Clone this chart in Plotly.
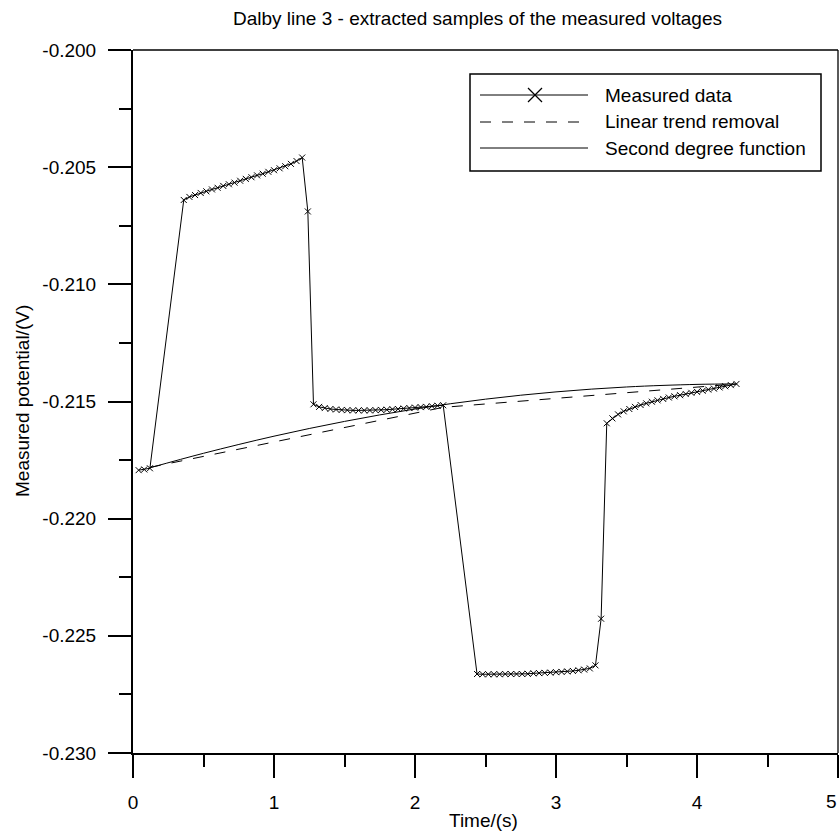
import plotly.graph_objects as go

# ---------------- data ----------------
t_measured = [
    0.04, 0.08, 0.12,
    0.36, 0.40, 0.44, 0.48, 0.52, 0.56, 0.60, 0.64, 0.68, 0.72, 0.76,
    0.80, 0.84, 0.88, 0.92, 0.96, 1.00, 1.04, 1.08, 1.12, 1.16, 1.20,
    1.24,
    1.28, 1.32, 1.36, 1.40, 1.44, 1.48, 1.52, 1.56, 1.60, 1.64, 1.68, 1.72,
    1.76, 1.80, 1.84, 1.88, 1.92, 1.96, 2.00, 2.04, 2.08, 2.12, 2.16, 2.20,
    2.44, 2.48, 2.52, 2.56, 2.60, 2.64, 2.68, 2.72, 2.76, 2.80, 2.84, 2.88,
    2.92, 2.96, 3.00, 3.04, 3.08, 3.12, 3.16, 3.20, 3.24, 3.28,
    3.32,
    3.36, 3.40, 3.44, 3.48, 3.52, 3.56, 3.60, 3.64, 3.68, 3.72, 3.76, 3.80,
    3.84, 3.88, 3.92, 3.96, 4.00, 4.04, 4.08, 4.12, 4.16, 4.20, 4.24, 4.28,
]
v_measured = [
    -0.21793, -0.21790, -0.21785,
    -0.20640, -0.20627, -0.20619, -0.20610, -0.20603, -0.20595, -0.20588,
    -0.20580, -0.20573, -0.20566, -0.20558, -0.20550, -0.20543, -0.20535,
    -0.20528, -0.20520, -0.20513, -0.20505, -0.20496, -0.20486, -0.20474,
    -0.20459,
    -0.20689,
    -0.21512, -0.21523, -0.21528, -0.21532, -0.21534, -0.21536, -0.21537,
    -0.21538, -0.21538, -0.21538, -0.21538, -0.21537, -0.21536, -0.21535,
    -0.21533, -0.21532, -0.21530, -0.21528, -0.21526, -0.21524, -0.21523,
    -0.21520, -0.21518, -0.21516,
    -0.22663, -0.22664, -0.22664, -0.22664, -0.22664, -0.22663, -0.22663,
    -0.22663, -0.22663, -0.22662, -0.22660, -0.22659, -0.22658, -0.22657,
    -0.22655, -0.22654, -0.22652, -0.22650, -0.22647, -0.22644, -0.22639,
    -0.22626,
    -0.22427,
    -0.21593, -0.21572, -0.21555, -0.21542, -0.21532, -0.21523, -0.21515,
    -0.21508, -0.21501, -0.21495, -0.21489, -0.21483, -0.21478, -0.21473,
    -0.21468, -0.21463, -0.21459, -0.21454, -0.21449, -0.21445, -0.21440,
    -0.21435, -0.21430, -0.21425,
]

t_linear = [0.12, 2.20, 4.28]
v_linear = [-0.21781, -0.21525, -0.21425]

t_second = [0.12, 0.5, 1.0, 1.5, 2.0, 2.5, 3.0, 3.5, 4.0, 4.28]
v_second = [-0.21783, -0.21721, -0.21648, -0.21585, -0.21532,
            -0.21490, -0.21459, -0.21438, -0.21427, -0.21425]

x_ticks = [0, 1, 2, 3, 4, 5]
y_ticks = [-0.230, -0.225, -0.220, -0.215, -0.210, -0.205, -0.200]

title_text = "Dalby line 3 - extracted samples of the measured voltages"
x_title = "Time/(s)"
y_title = "Measured potential/(V)"
legend_names = ["Measured data", "Linear trend removal", "Second degree function"]

# ---------------- layout geometry ----------------
W, H = 839, 831
L, R, T, B = 133, 1, 50, 78
PW, PH = W - L - R, H - T - B
FONT = "Liberation Sans, Arial, sans-serif"
FS = 19


def px(x):
    return (x - L) / PW


def py(y):
    return (T + PH - y) / PH


fig = go.Figure()

fig.add_trace(go.Scatter(
    x=t_linear, y=v_linear, mode="lines",
    line=dict(color="black", width=1, dash="11px,11px"),
    showlegend=False, hoverinfo="skip"))
fig.add_trace(go.Scatter(
    x=t_second, y=v_second, mode="lines", line_shape="spline",
    line=dict(color="black", width=1),
    showlegend=False, hoverinfo="skip"))
fig.add_trace(go.Scatter(
    x=t_measured, y=v_measured, mode="lines+markers",
    line=dict(color="black", width=1),
    marker=dict(symbol="x-thin-open", size=6, color="black",
                line=dict(color="black", width=1)),
    showlegend=False))

shapes = []
# top and right frame lines (thin)
shapes.append(dict(type="line", xref="paper", yref="paper", x0=0, x1=1, y0=1, y1=1,
                   line=dict(color="black", width=1.3)))
shapes.append(dict(type="line", xref="paper", yref="paper", x0=1, x1=1, y0=0, y1=1,
                   line=dict(color="black", width=1.3)))

# custom legend box
lx0, lx1, ly0, ly1 = 470, 821, 74, 171
shapes.append(dict(type="rect", xref="paper", yref="paper",
                   x0=px(lx0), x1=px(lx1), y0=py(ly1), y1=py(ly0),
                   line=dict(color="black", width=1.5), fillcolor="white", layer="above"))
rows = [95, 122, 148]
dashes = ["solid", "11px,11px", "solid"]
for ry, d in zip(rows, dashes):
    shapes.append(dict(type="line", xref="paper", yref="paper",
                       x0=px(480), x1=px(588), y0=py(ry), y1=py(ry),
                       line=dict(color="black", width=1, dash=d), layer="above"))
# big X marker in legend
mx, my, ms = 535, 95, 7
shapes.append(dict(type="line", xref="paper", yref="paper",
                   x0=px(mx - ms), x1=px(mx + ms), y0=py(my - ms), y1=py(my + ms),
                   line=dict(color="black", width=1.2), layer="above"))
shapes.append(dict(type="line", xref="paper", yref="paper",
                   x0=px(mx - ms), x1=px(mx + ms), y0=py(my + ms), y1=py(my - ms),
                   line=dict(color="black", width=1.2), layer="above"))

annotations = []
for ry, name in zip(rows, legend_names):
    annotations.append(dict(text=name, xref="paper", yref="paper", x=px(603), y=py(ry),
                            xanchor="left", yanchor="middle", showarrow=False,
                            font=dict(family=FONT, size=FS, color="black")))
annotations.append(dict(text=title_text, xref="paper", yref="paper",
                        x=px(477), y=py(18), xanchor="center", yanchor="middle",
                        showarrow=False, font=dict(family=FONT, size=FS, color="black")))
annotations.append(dict(text=x_title, xref="paper", yref="paper",
                        x=px(483), y=py(820), xanchor="center", yanchor="middle",
                        showarrow=False, font=dict(family=FONT, size=FS, color="black")))
annotations.append(dict(text=y_title, xref="paper", yref="paper",
                        x=px(22), y=py(401), xanchor="center", yanchor="middle",
                        textangle=-90, showarrow=False,
                        font=dict(family=FONT, size=FS, color="black")))
# last x tick label, kept inside the page edge
annotations.append(dict(text=str(x_ticks[-1]), xref="x", yref="paper",
                        x=x_ticks[-1], y=py(801), xanchor="right", yanchor="middle",
                        showarrow=False, xshift=1,
                        font=dict(family=FONT, size=FS, color="black")))

x_ticktext = [str(v) for v in x_ticks]
x_ticktext[-1] = ""  # drawn by the annotation above

fig.update_layout(
    width=W, height=H,
    margin=dict(l=L, r=R, t=T, b=B),
    paper_bgcolor="white", plot_bgcolor="white",
    font=dict(family=FONT, size=FS, color="black"),
    shapes=shapes, annotations=annotations,
    showlegend=False,
)
fig.update_xaxes(
    range=[0, 5], tickvals=x_ticks, ticktext=x_ticktext,
    showgrid=False, zeroline=False,
    showline=True, linecolor="black", linewidth=2,
    ticks="outside", ticklen=23, tickwidth=1.5, tickcolor="black",
    ticklabelstandoff=8,
    minor=dict(dtick=0.5, tick0=0, ticks="outside", ticklen=12, tickwidth=1.5,
               tickcolor="black", showgrid=False),
    tickfont=dict(family=FONT, size=FS, color="black"),
)
fig.update_yaxes(
    range=[-0.230, -0.200], tickvals=y_ticks,
    ticktext=["%.3f" % v for v in y_ticks],
    showgrid=False, zeroline=False,
    showline=True, linecolor="black", linewidth=2,
    ticks="outside", ticklen=23, tickwidth=1.5, tickcolor="black",
    ticklabelstandoff=8,
    minor=dict(dtick=0.0025, tick0=-0.230, ticks="outside", ticklen=12, tickwidth=1.5,
               tickcolor="black", showgrid=False),
    tickfont=dict(family=FONT, size=FS, color="black"),
)

fig.write_html("out.html", config={"displayModeBar": False},
               post_script="document.body.style.margin='0px';document.body.style.overflow='hidden';")
